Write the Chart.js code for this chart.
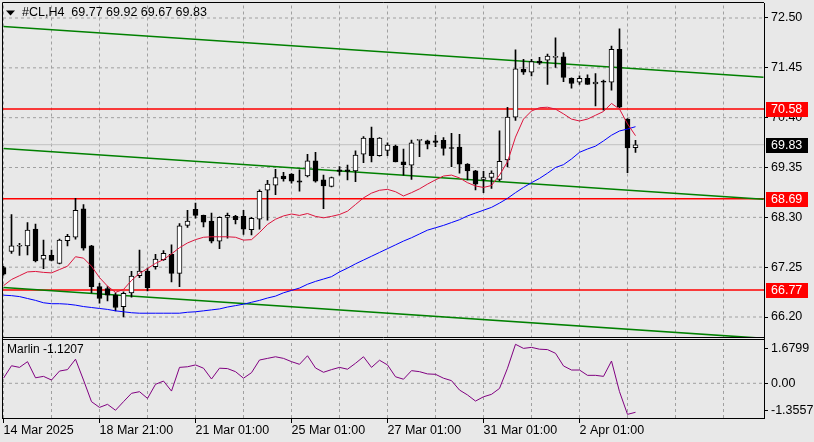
<!DOCTYPE html>
<html>
<head>
<meta charset="utf-8">
<script src="https://cdn.jsdelivr.net/npm/chart.js@4.4.1/dist/chart.umd.min.js"></script>
<style>
  html, body { margin: 0; padding: 0; background: #e8e8e8; }
  canvas { display: block; }
</style>
</head>
<body>
<canvas id="chart" width="814" height="442"></canvas>
<script>
// #CL H4, 14 Mar - 2 Apr 2025
var symbol = "#CL,H4";

// candles, one per H4 bar (index = bar number)
var opens  = [67.24,67.58,67.69,67.70,68.05,67.42,67.50,67.33,67.81,67.88,
              68.48,67.70,66.84,66.80,66.66,66.42,66.71,67.07,67.17,67.26,
              67.41,67.52,67.12,68.13,68.47,68.34,68.22,67.80,68.30,68.32,
              68.32,68.04,68.26,68.87,68.98,69.17,69.21,69.07,69.17,69.49,
              69.09,68.95,69.30,69.30,69.28,69.63,69.97,69.60,69.71,69.80,
              69.47,69.40,69.92,69.91,69.91,69.92,69.76,69.78,69.42,69.28,
              69.10,69.14,69.10,69.51,70.41,71.42,71.36,71.59,71.61,71.67,
              71.68,71.23,71.15,71.23,71.11,71.17,71.15,71.84,70.37,69.77];
var highs  = [67.27,68.36,67.75,68.19,68.16,67.82,67.61,67.84,67.94,68.70,
              68.57,67.71,66.91,66.84,66.71,66.73,67.16,67.61,67.23,67.52,
              67.60,67.72,68.17,68.45,68.60,68.35,68.39,68.31,68.39,68.34,
              68.45,68.30,68.88,69.08,69.31,69.25,69.22,69.30,69.63,69.67,
              69.19,69.15,69.37,69.40,69.70,70.00,70.20,69.98,69.87,69.82,
              69.74,69.93,69.94,69.93,70.03,69.98,70.07,70.05,69.43,69.29,
              69.27,69.28,70.12,70.62,71.83,71.63,71.63,71.67,71.74,72.08,
              71.77,71.24,71.28,71.30,71.33,71.19,71.91,72.27,70.38,69.92];
var lows   = [67.08,67.54,67.50,67.51,67.36,67.22,67.38,67.32,67.70,67.84,
              67.61,66.71,66.49,66.54,66.33,66.20,66.62,67.03,66.75,67.21,
              67.39,66.94,66.84,68.09,68.28,68.10,67.76,67.64,67.86,68.16,
              67.94,67.93,68.05,68.24,68.78,69.06,69.02,68.85,69.15,69.04,
              68.48,68.94,69.19,69.09,69.05,69.45,69.47,69.59,69.60,69.47,
              69.19,69.10,69.58,69.74,69.79,69.61,69.37,69.23,69.09,68.88,
              68.82,68.91,69.07,69.37,70.34,71.31,71.28,71.52,71.10,71.46,
              71.16,71.02,71.10,71.10,70.65,70.56,70.98,70.61,69.24,69.67];
var closes = [67.10,67.70,67.70,68.03,67.38,67.50,67.39,67.82,67.90,68.45,
              67.65,66.84,66.59,66.66,66.40,66.70,67.06,67.17,66.82,67.42,
              67.54,67.12,68.12,68.22,68.34,68.20,67.80,68.30,68.34,68.25,
              68.05,68.28,68.85,69.00,69.14,69.11,69.06,69.04,69.49,69.06,
              68.96,69.14,69.27,69.27,69.61,69.97,69.60,69.97,69.82,69.47,
              69.41,69.87,69.93,69.84,69.88,69.75,69.75,69.42,69.28,69.00,
              69.14,69.23,69.48,70.41,71.43,71.36,71.58,71.55,71.70,71.67,
              71.25,71.12,71.23,71.10,71.15,71.15,71.84,70.62,69.76,69.83];

// red (fast) and blue (slow) moving averages
var maFast = [66.86,66.99,67.07,67.15,67.16,67.14,67.13,67.20,67.27,67.47,
              67.44,67.27,67.03,66.85,66.72,66.78,66.97,67.12,67.22,67.33,
              67.41,67.53,67.66,67.76,67.83,67.88,67.89,67.89,67.89,67.88,
              67.82,67.83,67.98,68.15,68.26,68.33,68.37,68.34,68.38,68.32,
              68.29,68.32,68.36,68.43,68.57,68.71,68.81,68.87,68.89,68.84,
              68.75,68.82,68.90,69.00,69.09,69.17,69.19,69.13,69.03,68.96,
              68.93,68.97,69.19,69.47,69.99,70.37,70.54,70.61,70.62,70.58,
              70.48,70.37,70.33,70.37,70.45,70.53,70.70,70.58,70.27,70.02];
var maSlow = [66.66,66.65,66.63,66.59,66.55,66.50,66.48,66.48,66.47,66.45,
              66.42,66.40,66.38,66.36,66.33,66.31,66.29,66.28,66.28,66.28,
              66.28,66.28,66.28,66.30,66.31,66.33,66.35,66.37,66.41,66.44,
              66.47,66.51,66.55,66.60,66.64,66.71,66.76,66.81,66.89,66.95,
              67.00,67.05,67.15,67.23,67.32,67.40,67.48,67.56,67.64,67.72,
              67.80,67.87,67.95,68.03,68.08,68.13,68.19,68.25,68.33,68.39,
              68.45,68.51,68.60,68.70,68.82,68.93,69.03,69.12,69.23,69.35,
              69.41,69.53,69.67,69.74,69.80,69.91,70.03,70.12,70.16,70.21];

// Marlin oscillator (lower window)
var marlin = [0.25,0.86,0.78,1.06,0.27,0.34,0.16,0.60,0.67,1.18,
              0.16,-0.90,-1.18,-1.03,-1.32,-0.90,-0.49,-0.41,-0.74,-0.05,
              0.11,-0.38,0.78,0.81,0.90,0.74,0.21,0.74,0.72,0.57,
              0.25,0.52,1.14,1.22,1.30,1.22,1.06,0.93,1.35,0.75,
              0.54,0.67,0.78,0.69,0.98,1.30,0.78,1.13,0.90,0.32,
              0.20,0.62,0.57,0.46,0.44,0.25,0.13,-0.33,-0.57,-0.87,
              -0.66,-0.54,-0.25,0.74,1.91,1.71,1.76,1.67,1.65,1.47,
              0.85,0.65,0.65,0.39,0.39,0.34,1.09,-0.41,-1.52,-1.42];
var marlinLabel = "Marlin -1.1207";

// horizontal levels and the current bid
var levels = [70.58, 68.69, 66.77];
var lastPrice = 69.83;

// green channel lines, price at bar 0 and at bar 95
var channelBars = [0, 95];
var channelStart = [72.32, 69.75, 66.82];
var channelEnd = [71.25, 68.68, 65.75];

// axis ticks
var priceTicks = [72.50, 71.45, 70.40, 69.35, 68.30, 67.25, 66.20];
var marlinTicks = [1.6799, 0, -1.3557];
var gridBars = [0, 6, 12, 18, 24, 30, 36, 42, 48, 54, 60, 66, 72, 78, 84, 90];
var dateTickBars = [0, 12, 24, 36, 48, 60, 72];
var dateLabels = ["14 Mar 2025", "18 Mar 21:00", "21 Mar 01:00", "25 Mar 01:00",
                  "27 Mar 01:00", "31 Mar 01:00", "2 Apr 01:00"];

// visible ranges of the three axes
var xMin = -0.0625, xMax = 95.0625;
var priceMin = 65.747, priceMax = 72.816;
var marlinMin = -1.699, marlinMax = 2.194;

var FONT = "'Liberation Sans', Arial, sans-serif";
var GRID = '#a0a0a0';
var BG = '#e8e8e8';

Chart.defaults.font.family = FONT;
Chart.defaults.color = '#000';

function pts(values) {
  return values.map(function (v, i) { return {x: i, y: v}; });
}

function lineSet(data, color, width, order, axis, dash) {
  return {
    type: 'line', data: data, borderColor: color, borderWidth: width, fill: false,
    borderDash: dash || [], pointRadius: 0, tension: 0, order: order, clip: 0,
    yAxisID: axis || 'y'
  };
}

var datasets = [];

// candle bodies and wicks as floating bars
datasets.push({
  type: 'bar',
  data: opens.map(function (o, i) { return {x: i, y: [o, closes[i]]}; }),
  backgroundColor: function (c) {
    return closes[c.dataIndex] >= opens[c.dataIndex] ? '#ffffff' : '#000000';
  },
  borderColor: '#000', borderWidth: 1, borderSkipped: false,
  barThickness: 5, minBarLength: 1, grouped: false, order: 1, clip: 0, yAxisID: 'y'
});
datasets.push({
  type: 'bar',
  data: lows.map(function (l, i) { return {x: i, y: [l, highs[i]]}; }),
  backgroundColor: '#000', borderWidth: 0,
  barThickness: 1, grouped: false, order: 2, clip: 0, yAxisID: 'y'
});

// moving averages
datasets.push(lineSet(pts(maFast), '#dc143c', 1, 0));
datasets.push(lineSet(pts(maSlow), '#0000ff', 1, 0));

// channel
for (var k = 0; k < channelStart.length; k++) {
  datasets.push(lineSet([{x: channelBars[0], y: channelStart[k]}, {x: channelBars[1], y: channelEnd[k]}],
    '#008000', 1.5, 3));
}

// levels + bid line
levels.forEach(function (v) {
  datasets.push(lineSet([{x: xMin, y: v}, {x: xMax, y: v}], '#ff0000', 1.5, 4));
});
datasets.push(lineSet([{x: xMin, y: lastPrice}, {x: xMax, y: lastPrice}], '#c0c0c0', 1, 5));

// Marlin
datasets.push(lineSet(pts(marlin), '#800080', 1, 0, 'y2'));

// dashed grid, drawn first (highest order) so it sits behind everything
gridBars.forEach(function (b) {
  datasets.push(lineSet([{x: b, y: priceMin}, {x: b, y: priceMax}], GRID, 1, 9, 'y', [3, 3]));
  datasets.push(lineSet([{x: b, y: marlinMin}, {x: b, y: marlinMax}], GRID, 1, 9, 'y2', [3, 3]));
});
priceTicks.forEach(function (v) {
  datasets.push(lineSet([{x: xMin, y: v}, {x: xMax, y: v}], GRID, 1, 9, 'y', [3, 3]));
});
datasets.push(lineSet([{x: xMin, y: 0}, {x: xMax, y: 0}], GRID, 1, 9, 'y2', [3, 3]));

var decor = {
  id: 'decor',
  afterDraw: function (chart) {
    var c = chart.ctx, a = chart.chartArea, x = chart.scales.x, y = chart.scales.y, y2 = chart.scales.y2;
    c.save();
    // frames
    c.strokeStyle = '#000';
    c.lineWidth = 1;
    c.setLineDash([]);
    c.beginPath();
    c.moveTo(a.left - 0.5, a.top - 0.5); c.lineTo(a.right, a.top - 0.5);
    c.moveTo(a.left - 0.5, a.top - 0.5); c.lineTo(a.left - 0.5, a.bottom + 1);
    c.moveTo(a.left, Math.floor(y.bottom) - 0.5); c.lineTo(a.right, Math.floor(y.bottom) - 0.5);
    c.moveTo(a.left, Math.floor(y2.top) + 1.5); c.lineTo(a.right, Math.floor(y2.top) + 1.5);
    // date tick marks
    dateTickBars.forEach(function (b) {
      var px = Math.floor(x.getPixelForValue(b)) + 0.5;
      c.moveTo(px, a.bottom); c.lineTo(px, a.bottom + 5);
    });
    c.stroke();
    c.fillStyle = BG;
    c.fillRect(a.left, Math.floor(y.bottom), a.right - a.left, 1);

    // price tags on the axis
    c.font = '12.5px ' + FONT;
    c.textBaseline = 'middle';
    function tag(v, bg) {
      var py = y.getPixelForValue(v);
      c.fillStyle = bg;
      c.fillRect(y.left + 2, Math.round(py) - 7, 42, 15);
      c.fillStyle = '#fff';
      c.fillText(v.toFixed(2), y.left + 7, Math.round(py) + 0.5);
    }
    levels.forEach(function (v) { tag(v, '#ff0000'); });
    tag(lastPrice, '#000');

    // title
    var n = opens.length - 1;
    c.fillStyle = '#000';
    c.beginPath();
    c.moveTo(6, 10.5); c.lineTo(15, 10.5); c.lineTo(10.5, 15.5); c.closePath();
    c.fill();
    c.font = '12.5px ' + FONT;
    c.fillText(symbol + '  ' + [opens[n], highs[n], lows[n], closes[n]].map(function (v) {
      return v.toFixed(2); }).join(' '), 22, 13);
    c.font = '12px ' + FONT;
    c.fillText(marlinLabel, 7, 350);
    c.restore();
  }
};

new Chart(document.getElementById('chart'), {
  type: 'bar',
  data: {datasets: datasets},
  options: {
    responsive: false,
    animation: false,
    devicePixelRatio: 1,
    layout: {padding: {left: 3, top: 3, right: 0, bottom: 0}},
    plugins: {legend: {display: false}, tooltip: {enabled: false}},
    scales: {
      x: {
        type: 'linear', min: xMin, max: xMax, offset: false,
        afterBuildTicks: function (s) { s.ticks = gridBars.map(function (v) { return {value: v}; }); },
        afterFit: function (s) { s.height = 24; s.paddingLeft = 0; s.paddingRight = 0; },
        grid: {drawOnChartArea: false, drawTicks: false, offset: false},
        border: {color: '#000'},
        ticks: {
          align: 'start', autoSkip: false, maxRotation: 0, padding: 5,
          font: {size: 12.5},
          callback: function (v) {
            var i = dateTickBars.indexOf(v);
            return i < 0 ? '' : dateLabels[i];
          }
        }
      },
      y: {
        position: 'right', stack: 'panes', stackWeight: 335.5,
        min: priceMin, max: priceMax,
        afterBuildTicks: function (s) { s.ticks = priceTicks.map(function (v) { return {value: v}; }); },
        afterFit: function (s) { s.width = 50; s.paddingTop = 0; s.paddingBottom = 0; },
        grid: {drawOnChartArea: false, tickLength: 4, tickColor: '#000'},
        border: {color: '#000'},
        ticks: {padding: 3, font: {size: 12.5}, callback: function (v) { return v.toFixed(2); }}
      },
      y2: {
        position: 'right', stack: 'panes', stackWeight: 79.5,
        min: marlinMin, max: marlinMax,
        afterBuildTicks: function (s) { s.ticks = marlinTicks.map(function (v) { return {value: v}; }); },
        afterFit: function (s) { s.width = 50; s.paddingTop = 0; s.paddingBottom = 0; },
        grid: {drawOnChartArea: false, tickLength: 4, tickColor: '#000'},
        border: {color: '#000'},
        ticks: {
          padding: 3, font: {size: 12.5},
          callback: function (v) { return v === 0 ? '0.00' : v.toFixed(4); }
        }
      }
    }
  },
  plugins: [decor]
});
</script>
</body>
</html>
